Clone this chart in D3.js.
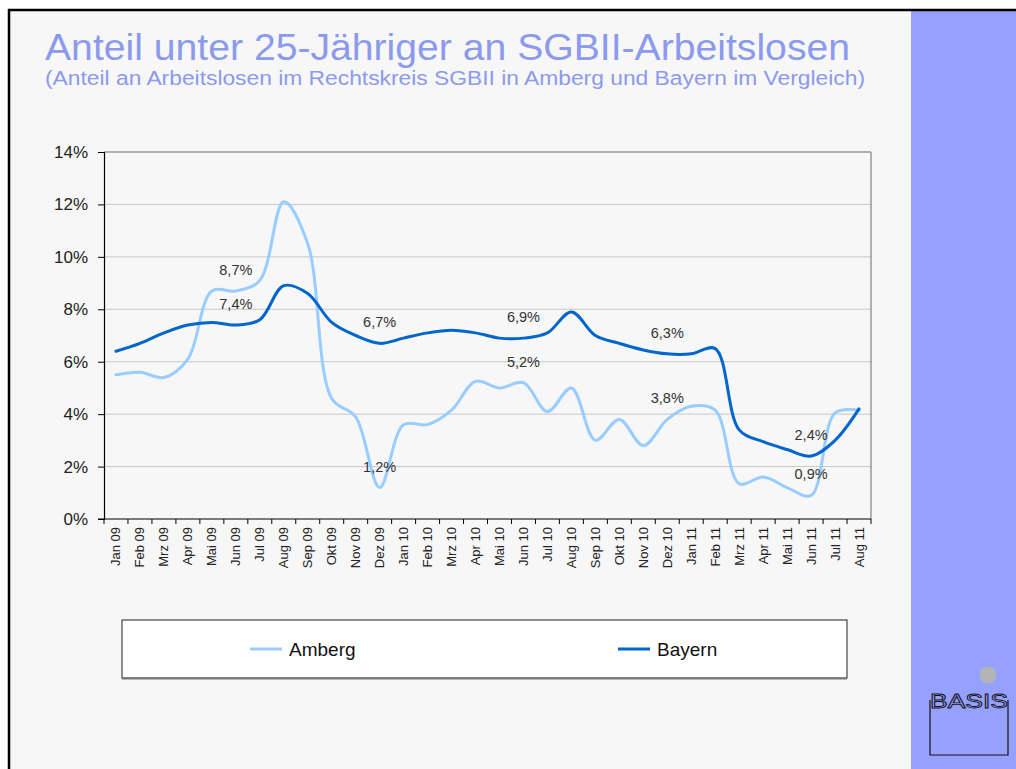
<!DOCTYPE html>
<html>
<head>
<meta charset="utf-8">
<script src="https://cdn.jsdelivr.net/npm/d3@7/dist/d3.min.js"></script>
<style>
  html, body { margin: 0; padding: 0; background: #ffffff; }
  svg { display: block; }
  text { font-family: "Liberation Sans", Arial, Helvetica, sans-serif; }
</style>
</head>
<body>
<svg id="chart" width="1016" height="769"></svg>
<script>
// Monthly categories, Jan 2009 – Aug 2011
const months = ["Jan 09","Feb 09","Mrz 09","Apr 09","Mai 09","Jun 09","Jul 09","Aug 09","Sep 09","Okt 09","Nov 09","Dez 09",
                "Jan 10","Feb 10","Mrz 10","Apr 10","Mai 10","Jun 10","Jul 10","Aug 10","Sep 10","Okt 10","Nov 10","Dez 10",
                "Jan 11","Feb 11","Mrz 11","Apr 11","Mai 11","Jun 11","Jul 11","Aug 11"];

// Share of under-25s among SGB II unemployed (percent)
const amberg = [5.5, 5.6, 5.4, 6.1, 8.7, 8.7, 9.1, 12.1, 10.5, 4.6, 3.9, 1.2,
                3.6, 3.6, 4.15, 5.25, 5.0, 5.2, 4.1, 5.0, 3.0, 3.8, 2.8, 3.8,
                4.3, 4.15, 1.35, 1.6, 1.2, 0.9, 4.05, 4.15];
const bayern = [6.4, 6.7, 7.1, 7.4, 7.5, 7.4, 7.6, 8.9, 8.6, 7.5, 7.0, 6.7,
                6.9, 7.1, 7.2, 7.1, 6.9, 6.9, 7.1, 7.9, 7.0, 6.7, 6.45, 6.3,
                6.3, 6.5, 3.4, 2.95, 2.65, 2.4, 3.0, 4.2];

const yTicks = [0, 2, 4, 6, 8, 10, 12, 14];
const seriesNames = ["Amberg", "Bayern"];
const seriesColors = ["#99ccff", "#0066cc"];
// Months that carry value labels (every half year)
const labelledMonths = ["Jun 09", "Dez 09", "Jun 10", "Dez 10", "Jun 11"];

const titleText = "Anteil unter 25-Jähriger an SGBII-Arbeitslosen";
const subtitleText = "(Anteil an Arbeitslosen im Rechtskreis SGBII in Amberg und Bayern im Vergleich)";

const svg = d3.select("#chart");

// Slide background with black frame on top/left and the blue side panel
svg.append("rect").attr("x", 9).attr("y", 10).attr("width", 1007).attr("height", 759).attr("fill", "#f7f7f7");
svg.append("rect").attr("x", 911).attr("y", 11).attr("width", 105).attr("height", 758).attr("fill", "#96a0ff");
svg.append("line").attr("x1", 8).attr("x2", 1016).attr("y1", 10).attr("y2", 10).attr("stroke", "#000").attr("stroke-width", 2.5);
svg.append("line").attr("x1", 9).attr("x2", 9).attr("y1", 9).attr("y2", 769).attr("stroke", "#000").attr("stroke-width", 2.5);

// Titles
svg.append("text").attr("x", 45).attr("y", 60)
  .attr("font-size", 36).attr("fill", "#8c9aee")
  .attr("textLength", 805).attr("lengthAdjust", "spacingAndGlyphs")
  .text(titleText);
svg.append("text").attr("x", 45).attr("y", 85)
  .attr("font-size", 20).attr("fill", "#8c9aee")
  .attr("textLength", 820).attr("lengthAdjust", "spacingAndGlyphs")
  .text(subtitleText);

// Plot area
const plot = { left: 104, right: 871, top: 152, bottom: 519 };

const x = d3.scaleBand().domain(months).range([plot.left, plot.right]).padding(0);
const y = d3.scaleLinear().domain([0, 14]).range([plot.bottom, plot.top]);
const cx = m => x(m) + x.bandwidth() / 2;

const g = svg.append("g");

// Horizontal gridlines
g.selectAll("line.grid").data(yTicks.filter(t => t > 0)).enter().append("line")
  .attr("class", "grid")
  .attr("x1", plot.left).attr("x2", plot.right)
  .attr("y1", d => y(d)).attr("y2", d => y(d))
  .attr("stroke", d => d === 14 ? "#999" : "#c8c8c8")
  .attr("stroke-width", d => d === 14 ? 1.5 : 1);

// Right frame of the plot area
g.append("line").attr("x1", plot.right).attr("x2", plot.right)
  .attr("y1", plot.top).attr("y2", plot.bottom)
  .attr("stroke", "#999").attr("stroke-width", 1.5);

// Y axis
const yAxis = d3.axisLeft(y).tickValues(yTicks).tickSize(6).tickPadding(10)
  .tickFormat(d => d + "%");
const yg = g.append("g").attr("transform", `translate(${plot.left},0)`).call(yAxis);
yg.select(".domain").attr("stroke", "#000").attr("stroke-width", 1.2);
yg.selectAll(".tick line").attr("stroke", "#000");
yg.selectAll(".tick text").attr("font-size", 17).attr("fill", "#222")
  .attr("font-family", "Liberation Sans, Arial, sans-serif");

// X axis: ticks at band boundaries, rotated labels at band centres
const xg = g.append("g").attr("transform", `translate(0,${plot.bottom})`);
xg.append("line").attr("x1", plot.left - 6).attr("x2", plot.right)
  .attr("y1", 0).attr("y2", 0).attr("stroke", "#000").attr("stroke-width", 1.2);
const boundaries = months.map(m => x(m)).concat([x(months[months.length - 1]) + x.bandwidth()]);
xg.selectAll("line.xt").data(boundaries).enter().append("line")
  .attr("class", "xt")
  .attr("x1", d => d).attr("x2", d => d).attr("y1", 0).attr("y2", 5)
  .attr("stroke", "#000");
xg.selectAll("text.xl").data(months).enter().append("text")
  .attr("class", "xl")
  .attr("transform", d => `translate(${cx(d) + 4.5},8) rotate(-90)`)
  .attr("text-anchor", "end")
  .attr("font-size", 13).attr("fill", "#222")
  .text(d => d);

// Series lines
const line = d3.line()
  .x((d, i) => cx(months[i]))
  .y(d => y(d))
  .curve(d3.curveCatmullRom.alpha(0.5));

const seriesData = [amberg, bayern];
seriesData.forEach((vals, k) => {
  g.append("path").datum(vals)
    .attr("d", line)
    .attr("fill", "none")
    .attr("stroke", seriesColors[k])
    .attr("stroke-width", 3)
    .attr("stroke-linejoin", "round")
    .attr("stroke-linecap", "round");
});

// Value labels
const fmt = v => v.toFixed(1).replace(".", ",") + "%";
seriesData.forEach(vals => {
  labelledMonths.forEach(m => {
    const i = months.indexOf(m);
    g.append("text")
      .attr("x", cx(m)).attr("y", y(vals[i]) - 16)
      .attr("text-anchor", "middle")
      .attr("font-size", 14.5).attr("fill", "#333")
      .text(fmt(vals[i]));
  });
});

// Legend
const lg = svg.append("g");
lg.append("rect").attr("x", 122).attr("y", 620).attr("width", 725).attr("height", 58)
  .attr("fill", "#ffffff").attr("stroke", "#222").attr("stroke-width", 1);
lg.append("line").attr("x1", 122).attr("x2", 847).attr("y1", 678.5).attr("y2", 678.5)
  .attr("stroke", "#777").attr("stroke-width", 2);
const legendX = [250, 618];
seriesNames.forEach((name, k) => {
  lg.append("line").attr("x1", legendX[k]).attr("x2", legendX[k] + 32)
    .attr("y1", 649).attr("y2", 649)
    .attr("stroke", seriesColors[k]).attr("stroke-width", 3);
  lg.append("text").attr("x", legendX[k] + 39).attr("y", 656)
    .attr("font-size", 19).attr("fill", "#111")
    .text(name);
});

// Logo in the side panel
const logo = svg.append("g");
logo.append("circle").attr("cx", 988).attr("cy", 675).attr("r", 8.5).attr("fill", "#b4b4b4");
logo.append("path")
  .attr("d", "M930,700 V755 H1008 V700")
  .attr("fill", "none").attr("stroke", "#111").attr("stroke-width", 1.2);
logo.append("text").attr("x", 930).attr("y", 708)
  .attr("font-size", 21)
  .attr("fill", "#96a0ff").attr("stroke", "#111").attr("stroke-width", 0.9)
  .attr("textLength", 78).attr("lengthAdjust", "spacingAndGlyphs")
  .text("BASIS");
</script>
</body>
</html>
